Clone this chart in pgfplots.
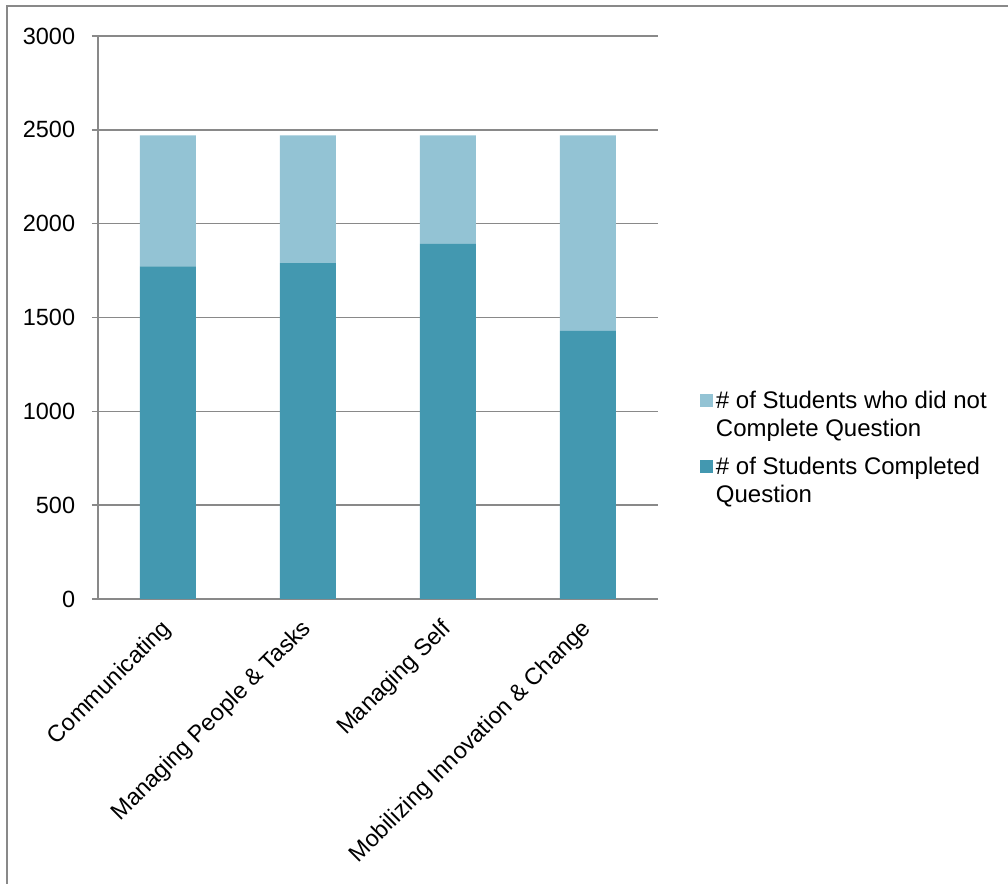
\documentclass[border=0pt]{standalone}
\usepackage{fontspec}
\setmainfont{Liberation Sans}
\usepackage{pgfplots}
\pgfplotsset{compat=1.18}
\definecolor{notdone}{HTML}{93C3D4}
\definecolor{done}{HTML}{4398B0}
\definecolor{axisgray}{HTML}{898989}
\newcommand{\chartfont}{\fontsize{17.6pt}{21pt}\selectfont}
\newcommand{\legendfont}{\fontsize{18pt}{21pt}\selectfont}
\begin{document}
\begin{tikzpicture}
\useasboundingbox (0,0) rectangle (756pt,663pt);
% chart area border
\draw[axisgray, line width=1.5pt] (5.25pt,0) -- (5.25pt,658.5pt) -- (760pt,658.5pt);
\begin{axis}[
  at={(73.5pt,213.75pt)}, anchor=south west,
  scale only axis, width=420pt, height=422.25pt,
  ybar stacked, bar width=42pt,
  xmin=-0.5, xmax=3.5, ymin=0, ymax=3000,
  ytick={0,500,...,3000},
  xtick={0,1,2,3},
  xticklabels={Communicating, Managing People \& Tasks, Managing Self, Mobilizing Innovation \& Change},
  major x tick style={draw=none},
  extra x ticks={-0.5,0.5,1.5,2.5,3.5},
  extra x tick labels={},
  extra x tick style={grid=none, major tick length=4.5pt, major x tick style={axisgray, line width=1.2pt}},
  axis x line*=bottom, axis y line*=left,
  axis line style={axisgray, line width=1.2pt},
  ymajorgrids, grid style={axisgray, line width=1.2pt},
  y tick style={axisgray, line width=1.2pt},
  tick align=outside, major tick length=4.5pt,
  /pgf/number format/assume math mode=true,
  /pgf/number format/1000 sep={},
  tick label style={font=\chartfont, text=black},
  yticklabel style={inner sep=0pt, xshift=-12.5pt},
  xticklabel style={rotate=45, anchor=east, inner sep=0pt, xshift=-10.8pt, yshift=-10.8pt},
  legend style={draw=none, fill=none, font=\legendfont, at={(1,0.375)}, anchor=north west,
    xshift=31.5pt, inner sep=0pt, cells={align=left, anchor=west}, row sep=10pt,
    /tikz/every even column/.append style={column sep=5.25pt}},
  legend cell align=left,
  reverse legend,
  legend image code/.code={\fill[#1] (0pt,5.6pt) rectangle (9.75pt,15.35pt);},
]
\addplot[fill=done, draw=none] coordinates {(0,1773) (1,1790) (2,1892) (3,1429)};
\addlegendentry{\# of Students Completed\\Question}
\addplot[fill=notdone, draw=none] coordinates {(0,697) (1,680) (2,578) (3,1041)};
\addlegendentry{\# of Students who did not\\Complete Question}
\end{axis}
\end{tikzpicture}
\end{document}
